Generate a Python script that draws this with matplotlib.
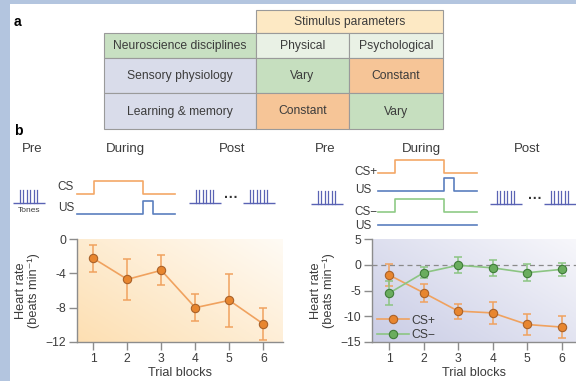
import numpy as np
import matplotlib
matplotlib.use("Agg")
import matplotlib.pyplot as plt
from matplotlib.patches import Rectangle
from matplotlib.colors import to_rgb

plt.rcParams['font.family'] = ['Liberation Sans', 'DejaVu Sans']

TXT = '#3c3c3c'
GRID = '#8c8c8c'

# ---- table (panel a) ----
table_header = "Stimulus parameters"
table_cols = ["Neuroscience disciplines", "Physical", "Psychological"]
table_rows = ["Sensory physiology", "Learning & memory"]
table_cells = [["Vary", "Constant"], ["Constant", "Vary"]]

# ---- heart-rate data (panel b) ----
trial_blocks = [1, 2, 3, 4, 5, 6]
single_mean = [-2.25, -4.7, -3.65, -8.0, -7.15, -9.9]
single_err = [1.55, 2.35, 1.75, 1.55, 3.1, 1.9]
left_yticks = [0, -4, -8, -12]
left_yticklabels = ["0", "-4", "-8", "\u221212"]

csplus_mean = [-2.0, -5.45, -9.0, -9.35, -11.6, -12.1]
csplus_err = [2.05, 1.8, 1.45, 2.2, 2.05, 2.15]
csminus_mean = [-5.5, -1.55, -0.1, -0.6, -1.55, -0.9]
csminus_err = [2.35, 1.1, 1.55, 1.55, 1.65, 1.2]
right_yticks = [5, 0, -5, -10, -15]
right_yticklabels = ["5", "0", "-5", "-10", "\u221215"]
legend_labels = ["CS+", "CS\u2212"]

W, H = 576, 381
fig = plt.figure(figsize=(W / 100, H / 100), dpi=100)
fig.patch.set_facecolor('white')

# pixel-space overlay for table, schematics and labels
ov = fig.add_axes([0, 0, 1, 1])
ov.set_xlim(0, W)
ov.set_ylim(H, 0)
ov.axis('off')

FRAME = '#b3c5df'
ov.add_patch(Rectangle((0, 0), W, 4, color=FRAME, lw=0))
ov.add_patch(Rectangle((0, 0), 10, H, color=FRAME, lw=0))

ov.text(14, 22, "a", fontsize=10, fontweight='bold', color='black', va='center', ha='left')
ov.text(14, 131, "b", fontsize=10, fontweight='bold', color='black', va='center', ha='left')

EDGE = '#9a9a9a'
C_HEAD = '#fde9c4'
C_DISC = '#c8e0c2'
C_SUB = '#e9f1e5'
C_ROW = '#d9dcea'
C_VARY = '#c6dfbf'
C_CONST = '#f6c597'

def cell(x0, y0, x1, y1, fc, text, fs=8.7):
    ov.add_patch(Rectangle((x0, y0), x1 - x0, y1 - y0, facecolor=fc,
                           edgecolor=EDGE, lw=0.8))
    ov.text((x0 + x1) / 2, (y0 + y1) / 2 + 0.5, text, ha='center', va='center',
            fontsize=fs, color=TXT)

xc = [104, 256, 349, 443]
yr = [33, 58, 93, 129]
cell(256, 10, 443, 33, C_HEAD, table_header)
cell(xc[0], yr[0], xc[1], yr[1], C_DISC, table_cols[0])
cell(xc[1], yr[0], xc[2], yr[1], C_SUB, table_cols[1])
cell(xc[2], yr[0], xc[3], yr[1], C_SUB, table_cols[2])
for i, rlab in enumerate(table_rows):
    cell(xc[0], yr[i + 1], xc[1], yr[i + 2], C_ROW, rlab)
    for j, v in enumerate(table_cells[i]):
        cell(xc[j + 1], yr[i + 1], xc[j + 2], yr[i + 2],
             C_VARY if v == "Vary" else C_CONST, v)

# ---- stimulus schematics ----
TONE = '#5a63b4'
ORANGE_L = '#f3a867'
BLUE_L = '#5b7fbf'
GREEN_L = '#8fcb86'

def tone_icon(x0, ybase, width=32, n=6, h=13):
    ov.plot([x0, x0 + width], [ybase, ybase], color=TONE, lw=1.0, solid_capstyle='butt')
    start = x0 + 7
    for k in range(n):
        xx = start + k * 3.4
        ov.plot([xx, xx], [ybase, ybase - h], color=TONE, lw=0.9)

def dots(x, y):
    ov.text(x, y, "\u00b7\u00b7\u00b7", ha='center', va='center', fontsize=10,
            fontweight='bold', color='#333333')

def step(x0, x_up, x_down, x1, ylo, yhi, color):
    ov.plot([x0, x_up, x_up, x_down, x_down, x1],
            [ylo, ylo, yhi, yhi, ylo, ylo], color=color, lw=1.2)

for x, lab in [(32, "Pre"), (125, "During"), (232, "Post"),
               (325, "Pre"), (421, "During"), (527, "Post")]:
    ov.text(x, 149, lab, ha='center', va='center', fontsize=9.5, color=TXT)

# left schematic
tone_icon(13, 203)
ov.text(29, 211, "Tones", ha='center', va='center', fontsize=6, color=TXT)
ov.text(66, 187, "CS", ha='center', va='center', fontsize=8.5, color=TXT)
ov.text(66, 208, "US", ha='center', va='center', fontsize=8.5, color=TXT)
step(77, 94, 143, 175, 194, 181, ORANGE_L)
step(77, 143, 153, 175, 214, 201, BLUE_L)
tone_icon(189, 203)
dots(231, 198)
tone_icon(243, 203)

# right schematic
tone_icon(311, 204)
ov.text(366, 172, "CS+", ha='center', va='center', fontsize=8.5, color=TXT)
ov.text(363, 190, "US", ha='center', va='center', fontsize=8.5, color=TXT)
ov.text(366, 212, "CS\u2212", ha='center', va='center', fontsize=8.5, color=TXT)
ov.text(363, 226, "US", ha='center', va='center', fontsize=8.5, color=TXT)
step(378, 395, 444, 477, 173, 160, ORANGE_L)
step(378, 444, 454, 477, 191, 178, BLUE_L)
step(378, 395, 444, 477, 212, 199, GREEN_L)
ov.plot([378, 477], [225, 225], color=BLUE_L, lw=1.2)
tone_icon(490, 204)
dots(535, 199)
tone_icon(544, 204)

# ---- charts ----
def gradient(ax, c_strong, c_weak):
    n = 200
    xx, yy = np.meshgrid(np.linspace(0, 1, n), np.linspace(0, 1, n))
    t = np.clip(0.55 * xx + 0.45 * yy, 0, 1)  # 0 at bottom-left, 1 at top-right
    a = np.array(to_rgb(c_strong))
    b = np.array(to_rgb(c_weak))
    img = a[None, None, :] * (1 - t[..., None]) + b[None, None, :] * t[..., None]
    ax.imshow(img, extent=[0, 1, 0, 1], origin='lower', transform=ax.transAxes,
              aspect='auto', zorder=0)

def style_axes(ax, yticks, ylabels, ylim):
    ax.set_xlim(0.52, 6.58)
    ax.set_ylim(*ylim)
    ax.set_xticks(trial_blocks)
    ax.set_yticks(yticks)
    ax.set_yticklabels(ylabels)
    for s in ['top', 'right']:
        ax.spines[s].set_visible(False)
    for s in ['left', 'bottom']:
        ax.spines[s].set_color(GRID)
        ax.spines[s].set_linewidth(1.0)
    ax.tick_params(axis='both', colors=GRID, labelcolor=TXT, labelsize=8.7,
                   length=6, width=1.0, direction='out', pad=2)
    ax.set_xlabel("Trial blocks", fontsize=9.2, color=TXT, labelpad=1)
    ax.set_ylabel("Heart rate\n(beats min\u207b\u00b9)", fontsize=9.2, color=TXT,
                  labelpad=4, linespacing=1.0)

OR_LINE = '#f0a25f'
OR_FACE = '#e8862f'
OR_EDGE = '#a9622a'
GR_LINE = '#8cc583'
GR_FACE = '#6aad5e'
GR_EDGE = '#3f7c39'

ax1 = fig.add_axes([77 / W, (H - 342) / H, 206 / W, 103 / H])
gradient(ax1, '#fddfb2', '#fffbf5')
style_axes(ax1, left_yticks, left_yticklabels, (-12, 0))
ax1.errorbar(trial_blocks, single_mean, yerr=single_err, fmt='none',
             ecolor=OR_LINE, elinewidth=1.1, capsize=3, capthick=1.1, zorder=2)
ax1.plot(trial_blocks, single_mean, '-o', color=OR_LINE, lw=1.2, ms=6,
         mfc=OR_FACE, mec=OR_EDGE, mew=0.8, zorder=3)

ax2 = fig.add_axes([372 / W, (H - 342) / H, 204 / W, 103 / H])
gradient(ax2, '#c9cce5', '#f7f7fb')
style_axes(ax2, right_yticks, right_yticklabels, (-15, 5))
ax2.set_xlim(0.5, 6.42)
ax2.axhline(0, color='#8a8a8a', lw=0.9, ls=(0, (4, 3)), zorder=1)
ax2.errorbar(trial_blocks, csplus_mean, yerr=csplus_err, fmt='none',
             ecolor=OR_LINE, elinewidth=1.1, capsize=3, capthick=1.1, zorder=2)
ax2.errorbar(trial_blocks, csminus_mean, yerr=csminus_err, fmt='none',
             ecolor=GR_LINE, elinewidth=1.1, capsize=3, capthick=1.1, zorder=2)
l1, = ax2.plot(trial_blocks, csplus_mean, '-o', color=OR_LINE, lw=1.2, ms=6,
               mfc=OR_FACE, mec=OR_EDGE, mew=0.8, zorder=3)
l2, = ax2.plot(trial_blocks, csminus_mean, '-o', color=GR_LINE, lw=1.2, ms=6,
               mfc=GR_FACE, mec=GR_EDGE, mew=0.8, zorder=3)
leg = ax2.legend([l1, l2], legend_labels, loc='lower left', bbox_to_anchor=(-0.01, -0.06),
                 frameon=False, fontsize=8.7, handlelength=2.6, handletextpad=0.2,
                 labelspacing=0.2, borderaxespad=0.2)
for t in leg.get_texts():
    t.set_color(TXT)

fig.savefig("out.png", dpi=100)
